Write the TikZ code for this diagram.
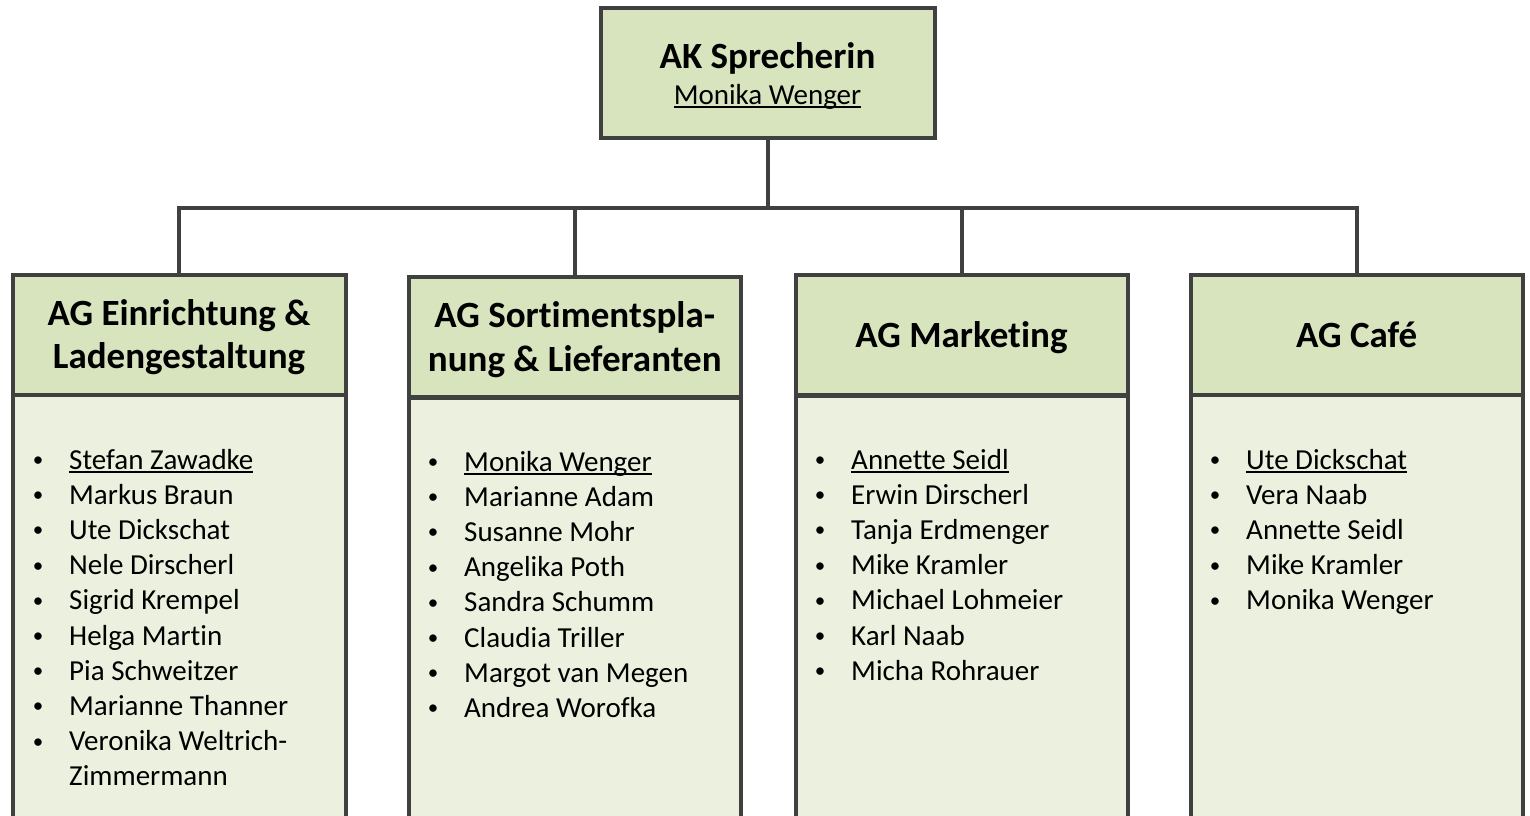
\documentclass[tikz,border=0pt]{standalone}
\usepackage{fontspec}
\setmainfont{Carlito}[Ligatures=NoCommon]
\usetikzlibrary{calc}
\definecolor{hdrfill}{HTML}{D7E4BD}
\definecolor{bodyfill}{HTML}{EBF1DE}
\definecolor{linecol}{HTML}{404040}
\newcommand\myul[1]{\setbox0\hbox{#1}\rlap{\rule[-0.14em]{\wd0}{0.07em}}\box0}
\tikzset{
  frame/.style={draw=linecol, line width=4pt, outer sep=0pt, inner sep=0pt},
  topbox/.style={frame, fill=hdrfill, minimum width=334pt, minimum height=130pt},
  hdrbox/.style={frame, fill=hdrfill, minimum height=120pt},
  bodybox/.style={frame, fill=bodyfill, anchor=north, minimum height=460pt},
  hdrtext/.style={anchor=base, inner sep=0pt, font=\fontsize{37}{43}\selectfont\bfseries},
  itemtext/.style={anchor=base west, inner sep=0pt, font=\fontsize{29}{35}\selectfont},
  bullettext/.style={anchor=base, inner sep=0pt, font=\fontsize{21}{25}\selectfont},
  conn/.style={draw=linecol, line width=4pt},
}
\begin{document}
\begin{tikzpicture}[x=1pt,y=-1pt]
\useasboundingbox (0,0) rectangle (1530,815);
\clip (0,0) rectangle (1530,815);
% body boxes
\node[bodybox, minimum width=333pt] (b1) at (179,395) {};
\node[bodybox, minimum width=331.5pt] (b2) at (574.75,397.5) {};
\node[bodybox, minimum width=332pt] (b3) at (961.5,395.5) {};
\node[bodybox, minimum width=331.5pt] (b4) at (1356.75,395) {};
% header boxes
\node[hdrbox, minimum width=333pt] (h1) at (179,335) {};
\node[hdrbox, minimum width=331.5pt] (h2) at (574.75,337.25) {};
\node[hdrbox, minimum width=332pt] (h3) at (961.5,335.25) {};
\node[hdrbox, minimum width=331.5pt] (h4) at (1356.75,335) {};
% top box
\node[topbox] (top) at (767.5,72.5) {};
\node[hdrtext] (toptitle) at (767.5,68) {AK Sprecherin};
\node[anchor=base, inner sep=0pt, font=\fontsize{29}{35}\selectfont] (topname) at (767.5,104) {\myul{Monika Wenger}};
% connectors
\coordinate (bus) at ($(top.south)+(0,70)$);
\foreach \h in {h1,h2,h3,h4}{
  \draw[conn] (top.south) -- (top.south |- bus) -| (\h.north);
}
% header texts
\node[hdrtext] (h1a) at (179,325) {AG Einrichtung \&};
\node[hdrtext] (h1b) at (179,368) {Ladengestaltung};
\node[hdrtext] (h2a) at (574.75,327) {AG Sortimentspla-};
\node[hdrtext] (h2b) at (574.75,371) {nung \& Lieferanten};
\node[hdrtext] (h3a) at (961.5,347) {AG Marketing};
\node[hdrtext] (h4a) at (1356.75,347) {AG Café};
% lists
\foreach \nm [count=\i from 0] in {{\myul{Stefan Zawadke}},Markus Braun,Ute Dickschat,Nele Dirscherl,Sigrid Krempel,Helga Martin,Pia Schweitzer,Marianne Thanner,Veronika Weltrich-}{
  \node[bullettext] (l1b\i) at (38,466.5+35.2*\i) {•};
  \node[itemtext] (l1t\i) at (69,469+35.2*\i) {\nm};
}
\node[itemtext] (l1t9) at (69,469+35.2*9) {Zimmermann};
\foreach \nm [count=\i from 0] in {{\myul{Monika Wenger}},Marianne Adam,Susanne Mohr,Angelika Poth,Sandra Schumm,Claudia Triller,Margot van Megen,Andrea Worofka}{
  \node[bullettext] (l2b\i) at (433,468.5+35.2*\i) {•};
  \node[itemtext] (l2t\i) at (464,471+35.2*\i) {\nm};
}
\foreach \nm [count=\i from 0] in {{\myul{Annette Seidl}},Erwin Dirscherl,Tanja Erdmenger,Mike Kramler,Michael Lohmeier,Karl Naab,Micha Rohrauer}{
  \node[bullettext] (l3b\i) at (820,466.5+35.2*\i) {•};
  \node[itemtext] (l3t\i) at (851,469+35.2*\i) {\nm};
}
\foreach \nm [count=\i from 0] in {{\myul{Ute Dickschat}},Vera Naab,Annette Seidl,Mike Kramler,Monika Wenger}{
  \node[bullettext] (l4b\i) at (1215,466.5+35.2*\i) {•};
  \node[itemtext] (l4t\i) at (1246,469+35.2*\i) {\nm};
}
\end{tikzpicture}
\end{document}
